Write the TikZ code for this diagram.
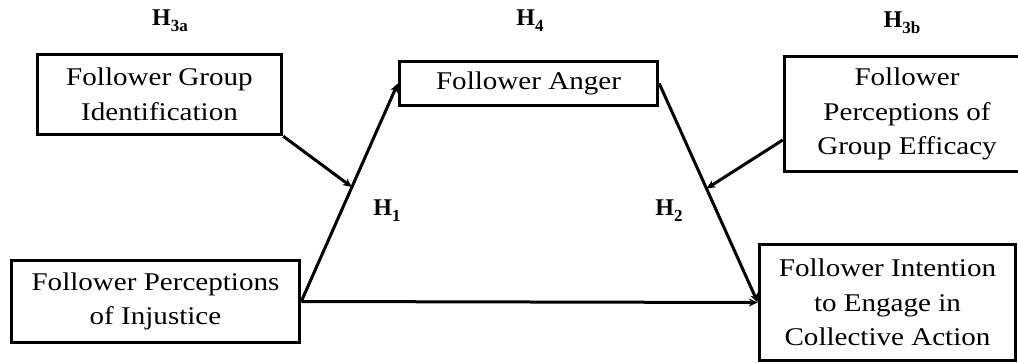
\documentclass[tikz,border=0pt]{standalone}
\usepackage{fontspec}
\setmainfont{Liberation Serif}
\newfontfamily\widefont{Liberation Serif}[FakeStretch=1.14]
\usetikzlibrary{arrows.meta}

\newcommand{\hsub}[1]{\raisebox{-6pt}{\fontsize{17}{17}\selectfont #1}}

\tikzset{
  box/.style={draw, line width=3.5pt, align=center, inner sep=0pt,
    font=\widefont\fontsize{25.5}{34.5}\selectfont},
  hyp/.style={font=\bfseries\fontsize{24}{26}\selectfont, inner sep=0pt},
  link/.style={line width=3pt, -{Stealth[length=9pt,width=8pt]}}
}

\begin{document}
\begin{tikzpicture}[x=1pt,y=-1pt]
\useasboundingbox (0,0) rectangle (1018,363);
\clip (0,0) rectangle (1018,363);
% boxes
\node[box, minimum width=244pt, minimum height=80pt] (gid) at (159.5,94.5) {Follower Group\\Identification};
\node[box, minimum width=258pt, minimum height=44pt] (anger) at (528.5,83.5) {Follower Anger};
\node[box, minimum width=245pt, minimum height=115pt] (eff) at (907,114) {Follower\\Perceptions of\\Group Efficacy};
\node[box, minimum width=288pt, minimum height=82pt] (inj) at (155.5,301.5) {Follower Perceptions\\of Injustice};
\node[box, minimum width=256pt, minimum height=116pt] (intent) at (887.5,302.5) {Follower Intention\\to Engage in\\Collective Action};
% hypothesis labels
\node[hyp] (h3a) at (170,21) {H\hsub{3a}};
\node[hyp] (h4) at (530,21) {H\hsub{4}};
\node[hyp] (h3b) at (902,23) {H\hsub{3b}};
\node[hyp] (h1) at (387,211) {H\hsub{1}};
\node[hyp] (h2) at (669,211) {H\hsub{2}};
% paths
\draw[link] (inj.east) -- (anger.west) coordinate[pos=0.525] (m1);
\draw[link] (anger.east) -- (intent.west) coordinate[pos=0.48] (m2);
\draw[link] (inj.east) -- (intent.west);
% moderators
\draw[link] (gid.south east) -- (m1);
\draw[link] ([yshift=-26pt]eff.west) -- (m2);
\end{tikzpicture}
\end{document}
